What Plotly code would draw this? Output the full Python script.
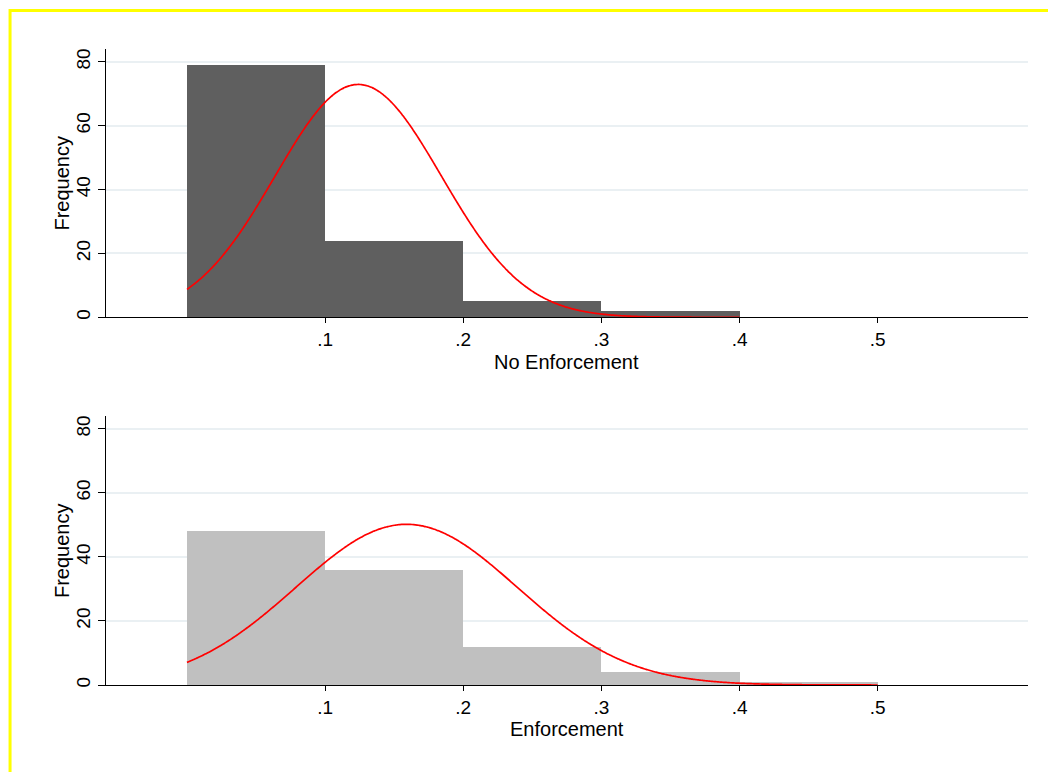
import numpy as np
import plotly.graph_objects as go
from plotly.subplots import make_subplots

# ---- data ----
bin_edges_top = [0.0, 0.1, 0.2, 0.3, 0.4]
counts_top = [79, 24, 5, 2]          # No Enforcement
bin_edges_bot = [0.0, 0.1, 0.2, 0.3, 0.4, 0.5]
counts_bot = [48, 36, 12, 4, 1]      # Enforcement

# normal-fit parameters for the overlay curves
mean_top, sd_top = 0.124, 0.0602
mean_bot, sd_bot = 0.159, 0.0803

x_tick_vals = [0.1, 0.2, 0.3, 0.4, 0.5]
x_tick_text = [".1", ".2", ".3", ".4", ".5"]
y_tick_vals = [0, 20, 40, 60, 80]
y_tick_text = ["0", "20", "40", "60", "80"]
x_titles = ["No Enforcement", "Enforcement"]
y_title = "Frequency"

FONT = "Liberation Sans, Arial, Helvetica, sans-serif"

OFF = 8  # page offset of the figure inside the browser
W, H = 1056, 772
ML, MR, MT, MB = 105.5 - OFF, W - (1028 - OFF), 49 - OFF, H - (685 - OFF)
PW, PH = W - ML - MR, H - MT - MB


def px_to_paper_x(px):
    return (px - OFF - ML) / PW


def px_to_paper_y(py):
    return (H - MB - (py - OFF)) / PH


top_dom = [px_to_paper_y(317.3), 1.0]
bot_dom = [0.0, px_to_paper_y(416)]

fig = make_subplots(rows=2, cols=1)


def normal_curve(edges, counts, mu, sd):
    n = sum(counts)
    w = edges[1] - edges[0]
    xs = np.linspace(edges[0], edges[-1], 400)
    ys = n * w * np.exp(-((xs - mu) ** 2) / (2 * sd ** 2)) / (sd * np.sqrt(2 * np.pi))
    return xs, ys


for row, (edges, counts, mu, sd, col) in enumerate(
    [
        (bin_edges_top, counts_top, mean_top, sd_top, "#5f5f5f"),
        (bin_edges_bot, counts_bot, mean_bot, sd_bot, "#c0c0c0"),
    ],
    start=1,
):
    centers = [(a + b) / 2 for a, b in zip(edges[:-1], edges[1:])]
    widths = [b - a for a, b in zip(edges[:-1], edges[1:])]
    fig.add_trace(
        go.Bar(x=centers, y=counts, width=widths, marker=dict(color=col, line=dict(width=0)),
               showlegend=False, hoverinfo="x+y"),
        row=row, col=1,
    )
    xs, ys = normal_curve(edges, counts, mu, sd)
    fig.add_trace(
        go.Scatter(x=xs, y=ys, mode="lines", line=dict(color="#ff0000", width=1.7, shape="spline"),
                   showlegend=False, hoverinfo="skip"),
        row=row, col=1,
    )

xr = [-0.0586, 0.6088]
for i, dom in [(1, top_dom), (2, bot_dom)]:
    fig.update_xaxes(
        row=i, col=1, range=xr, tickvals=x_tick_vals, ticktext=x_tick_text,
        showgrid=False, zeroline=False, showline=True, linecolor="#000000", linewidth=1.2,
        ticks="outside", ticklen=5, tickwidth=1.2, tickcolor="#000000",
        tickfont=dict(family=FONT, size=19, color="#000000"),
    )
    fig.update_yaxes(
        row=i, col=1, range=[0, 84], domain=dom, tickvals=y_tick_vals, ticktext=y_tick_text,
        tickangle=-90, showgrid=True, gridcolor="#eaf0f3", gridwidth=1.5, zeroline=False,
        showline=True, linecolor="#000000", linewidth=1.2,
        ticks="outside", ticklen=7, tickwidth=1.2, tickcolor="#000000",
        tickfont=dict(family=FONT, size=19, color="#000000"),
    )

fig.update_layout(barmode="overlay", bargap=0)

annotations = []
for title, ycenter, xt_y in [(x_titles[0], 183, 361.5), (x_titles[1], 550.5, 728.5)]:
    annotations.append(dict(
        text=y_title, x=px_to_paper_x(61), y=px_to_paper_y(ycenter), xref="paper", yref="paper",
        textangle=-90, showarrow=False, xanchor="center", yanchor="middle",
        font=dict(family=FONT, size=20, color="#000000"),
    ))
    annotations.append(dict(
        text=title, x=px_to_paper_x(566.5), y=px_to_paper_y(xt_y), xref="paper", yref="paper",
        showarrow=False, xanchor="center", yanchor="middle",
        font=dict(family=FONT, size=20, color="#000000"),
    ))

shapes = [dict(
    type="rect", xref="paper", yref="paper",
    x0=px_to_paper_x(9.5), x1=px_to_paper_x(1090),
    y0=px_to_paper_y(800), y1=px_to_paper_y(10.5),
    line=dict(color="#ffff00", width=3), fillcolor="rgba(0,0,0,0)", layer="above",
)]

fig.update_layout(
    width=W, height=H, margin=dict(l=ML, r=MR, t=MT, b=MB, pad=0),
    paper_bgcolor="#ffffff", plot_bgcolor="#ffffff",
    annotations=annotations, shapes=shapes,
    font=dict(family=FONT, color="#000000"),
)

fig.write_html("out.html")
